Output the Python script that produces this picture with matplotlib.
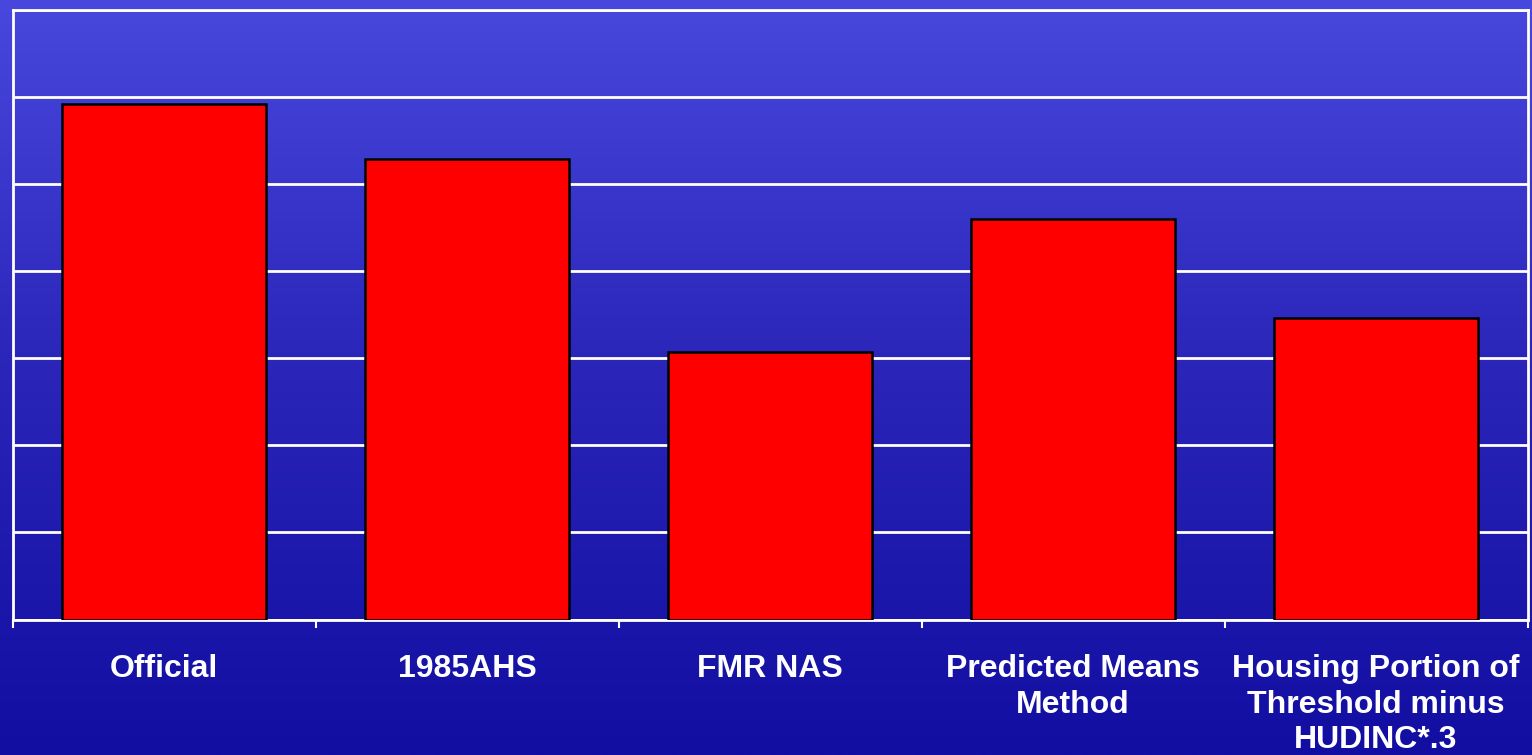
import numpy as np
import matplotlib
matplotlib.use("Agg")
import matplotlib.pyplot as plt
from matplotlib.colors import LinearSegmentedColormap

categories = ["Official", "1985AHS", "FMR NAS", "Predicted Means\nMethod",
              "Housing Portion of\nThreshold minus\nHUDINC*.3"]
values = [5.92, 5.29, 3.07, 4.60, 3.46]

W, H = 1532, 755
fig = plt.figure(figsize=(W / 100, H / 100), dpi=100)

# background gradient
bg = fig.add_axes([0, 0, 1, 1], zorder=0)
cmap = LinearSegmentedColormap.from_list("bg", ["#4848de", "#2a24b8", "#120ea2"])
grad = np.linspace(0, 1, 256).reshape(-1, 1)
bg.imshow(grad, aspect="auto", cmap=cmap, extent=[0, 1, 0, 1], origin="upper")
bg.axis("off")

left, right, top, bottom = 12.5, 1527.5, 9.5, 619.5
ax = fig.add_axes([left / W, 1 - bottom / H, (right - left) / W, (bottom - top) / H], zorder=1)
ax.patch.set_alpha(0)

x = np.arange(len(categories))
ax.bar(x, values, width=0.67, color="#ff0000", edgecolor="black", linewidth=1.8, zorder=3)

ax.set_xlim(-0.5, len(categories) - 0.5)
ax.set_ylim(0, 7)
ax.set_yticks(np.arange(0, 8, 1))
ax.yaxis.grid(True, color="white", linewidth=2, zorder=1)
ax.tick_params(axis="y", length=0, labelleft=False)

ax.set_xticks(np.arange(-0.5, len(categories), 1))
ax.set_xticklabels([])
ax.set_xticks(x, minor=True)
ax.set_xticklabels(categories, minor=True, color="white", fontsize=23,
                   fontweight="bold", family="Liberation Sans", linespacing=1.23)
ax.tick_params(axis="x", which="major", length=6, width=1.5, color="white")
ax.tick_params(axis="x", which="minor", length=0, pad=25)
for lab in ax.get_xticklabels(minor=True):
    lab.set_verticalalignment("top")

for s in ax.spines.values():
    s.set_color("white")
    s.set_linewidth(2)

fig.savefig("out.png", dpi=100)
